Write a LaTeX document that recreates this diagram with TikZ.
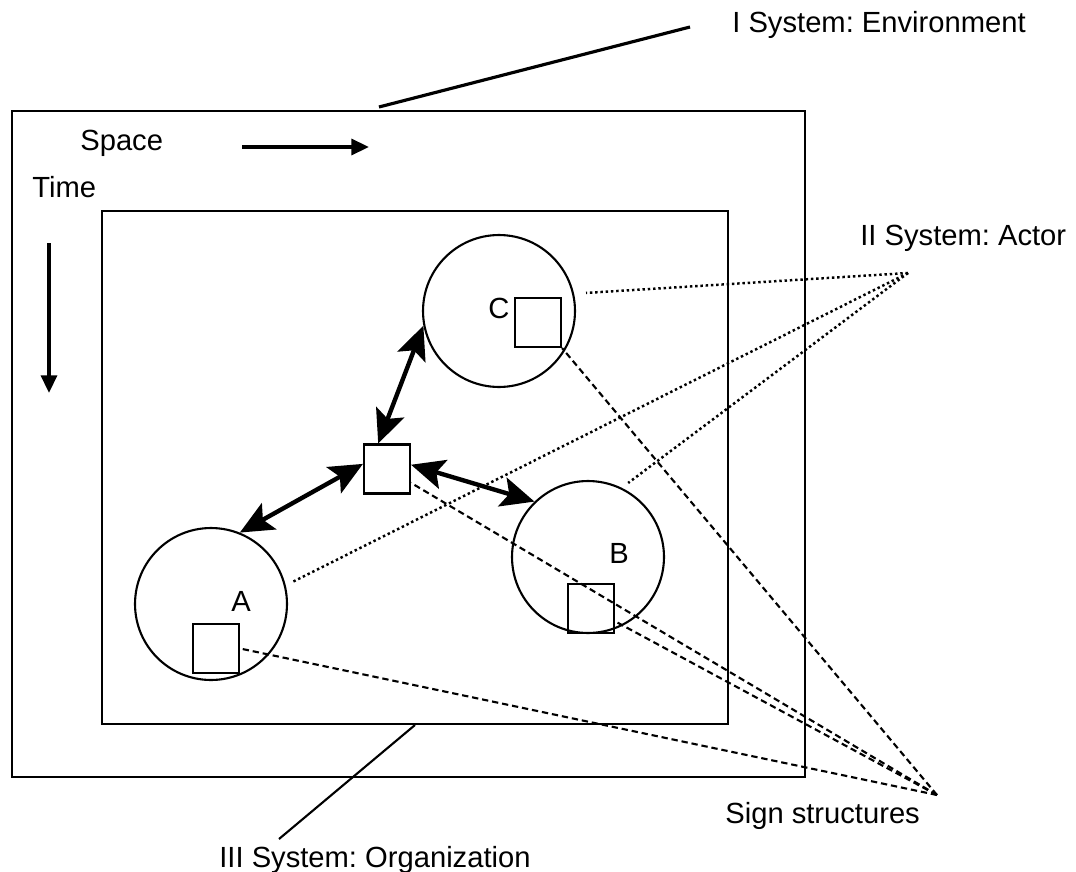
\documentclass[tikz,border=0pt]{standalone}
\usepackage{fontspec}
\setmainfont{Liberation Sans}
\usetikzlibrary{arrows.meta}
\frenchspacing

\begin{document}
\begin{tikzpicture}[x=0.02cm,y=-0.02cm,
    every node/.style={font=\fontsize{16.6}{19.9}\selectfont},
    txt/.style={anchor=base west,inner sep=0pt},
    frame/.style={draw,rectangle,line width=1.2pt,inner sep=0pt},
    actor/.style={draw,circle,line width=1.2pt,minimum size=3.04cm,inner sep=0pt},
    sign/.style={draw,rectangle,line width=1.2pt,minimum width=0.92cm,minimum height=0.98cm,inner sep=0pt},
    link/.style={line width=2.5pt,{Stealth[length=19pt,width=17pt,inset=4pt]}-{Stealth[length=19pt,width=17pt,inset=4pt]}},
    dirarrow/.style={line width=2pt,-{Triangle[length=10pt,width=9pt]}},
    actline/.style={line width=1.4pt,dash pattern=on 1.4pt off 1.6pt},
    signline/.style={line width=1.2pt,dash pattern=on 3.6pt off 2.2pt}]
    \useasboundingbox (0,0) rectangle (1076,872);

    % system frames
    \node[frame,minimum width=15.86cm,minimum height=13.32cm] (env) at (408.5,444) {};
    \node[frame,minimum width=12.52cm,minimum height=10.26cm] (org) at (415,467.5) {};

    % actors and sign structures
    \node[actor] (actA) at (211,604) {};
    \node[actor] (actB) at (588,557) {};
    \node[actor] (actC) at (499,311) {};
    \node[sign] (sgnA) at (216,648.5) {};
    \node[sign] (sgnB) at (591,608.5) {};
    \node[sign] (sgnC) at (538,322.5) {};
    \node[sign] (hub) at (387,469) {};
    \node[txt] (lblA) at (231,611) {A};
    \node[txt] (lblB) at (609,563) {B};
    \node[txt] (lblC) at (488,318) {C};

    % labels
    \node[txt] (envLbl) at (732,32) {I System: Environment};
    \node[txt] (actLbl) at (860,245) {II System: Actor};
    \node[txt] (orgLbl) at (219,867) {III System: Organization};
    \node[txt] (signLbl) at (725,823) {Sign structures};
    \node[txt] (spaceLbl) at (80,150) {Space};
    \node[txt] (timeLbl) at (32,197) {Time};

    \coordinate (envFoot) at (379,107);
    \coordinate (envTip) at (690,27);
    \coordinate (orgTip) at (279,839);
    \coordinate (actPt) at (908,273);
    \coordinate (signPt) at (937,795);
    \coordinate (spaceA) at (242,147);
    \coordinate (spaceB) at (369,147);
    \coordinate (timeA) at (49,243);
    \coordinate (timeB) at (49,393);

    \draw[line width=1.8pt] (envFoot) -- (envTip);
    \draw[line width=1.2pt] (orgTip) -- (org.south);
    \draw[dirarrow] (spaceA) -- (spaceB);
    \draw[dirarrow] (timeA) -- (timeB);

    % interaction
    \draw[link] (hub.109) -- (actC.191);
    \draw[link] (hub.168) -- (actA.68);
    \draw[link] (hub.10) -- (actB.134);

    % pointers
    \draw[actline,shorten >=0.24cm] (actPt) -- (actC.13);
    \draw[actline,shorten >=0.16cm] (actPt) -- (actB.64);
    \draw[actline,shorten >=0.14cm] (actPt) -- (actA.14);
    \draw[signline] (signPt) -- (sgnA.east);
    \draw[signline] (signPt) -- (hub.-30);
    \draw[signline] (signPt) -- (sgnB.-28);
    \draw[signline] (signPt) -- (sgnC.south east);
\end{tikzpicture}
\end{document}
